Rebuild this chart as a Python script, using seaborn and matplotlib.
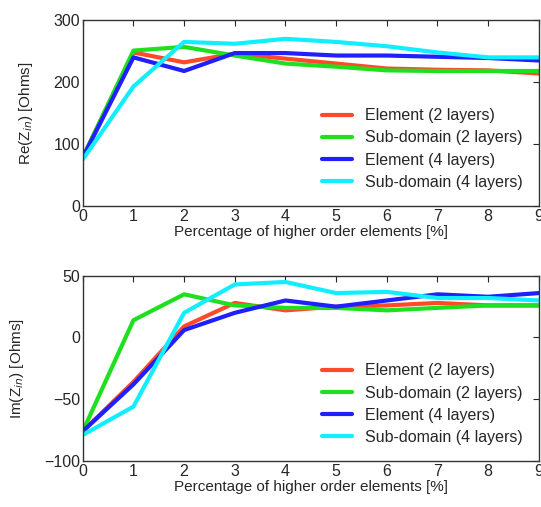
import pandas as pd
import matplotlib
matplotlib.use("Agg")
import matplotlib.pyplot as plt
import seaborn as sns

# x positions: percentage of higher order elements
pct = [0, 1, 2, 3, 4, 5, 6, 7, 8, 9]

series_names = ["Element (2 layers)", "Sub-domain (2 layers)",
                "Element (4 layers)", "Sub-domain (4 layers)"]
colors = ["#ff4a2a", "#1fe01f", "#1f1fff", "#11eeff"]

# Re(Z_in)
re_elem2 = [78, 248, 232, 246, 238, 230, 222, 220, 219, 214]
re_sub2 = [78, 251, 257, 243, 230, 225, 219, 218, 218, 218]
re_elem4 = [78, 240, 218, 247, 247, 243, 243, 241, 239, 235]
re_sub4 = [75, 193, 265, 262, 270, 265, 258, 248, 240, 240]

# Im(Z_in)
im_elem2 = [-76, -36, 9, 28, 22, 25, 26, 28, 26, 26]
im_sub2 = [-76, 14, 35, 26, 24, 24, 22, 24, 26, 26]
im_elem4 = [-76, -38, 6, 20, 30, 25, 30, 35, 33, 36]
im_sub4 = [-79, -56, 20, 43, 45, 36, 37, 32, 32, 30]


def long_df(values):
    rows = []
    for name, vals in zip(series_names, values):
        for x, v in zip(pct, vals):
            rows.append({"pct": x, "value": v, "series": name})
    return pd.DataFrame(rows)


def style_axis(ax, ylim, yticks, ylabel):
    ax.set_xlim(0, 9)
    ax.set_xticks(pct)
    ax.set_ylim(*ylim)
    ax.set_yticks(yticks)
    ax.tick_params(direction="in", top=True, right=True, length=4,
                   labelsize=11.5, pad=2)
    for s in ax.spines.values():
        s.set_color("#333333")
        s.set_linewidth(1.0)
    ax.set_xlabel("Percentage of higher order elements [%]", fontsize=11, labelpad=1)
    ax.set_ylabel(ylabel, fontsize=11, labelpad=13)
    ax.legend(loc="lower right", frameon=False, fontsize=11.5,
              handlelength=1.9, handletextpad=0.8, labelspacing=0.45,
              borderaxespad=0.6)


sns.set_style("white")
plt.rcParams["font.family"] = ["Liberation Sans", "DejaVu Sans"]

fig = plt.figure(figsize=(5.41, 5.07), dpi=100)
ax1 = fig.add_axes([0.153, 0.594, 0.843, 0.366])
ax2 = fig.add_axes([0.153, 0.091, 0.843, 0.365])

palette = dict(zip(series_names, colors))

sns.lineplot(data=long_df([re_elem2, re_sub2, re_elem4, re_sub4]),
             x="pct", y="value", hue="series", hue_order=series_names,
             palette=palette, linewidth=3, ax=ax1)
style_axis(ax1, (0, 300), [0, 100, 200, 300], r"Re(Z$_{in}$) [Ohms]")

sns.lineplot(data=long_df([im_elem2, im_sub2, im_elem4, im_sub4]),
             x="pct", y="value", hue="series", hue_order=series_names,
             palette=palette, linewidth=3, ax=ax2)
style_axis(ax2, (-100, 50), [-100, -50, 0, 50], r"Im(Z$_{in}$) [Ohms]")

fig.savefig("out.png", dpi=100)
